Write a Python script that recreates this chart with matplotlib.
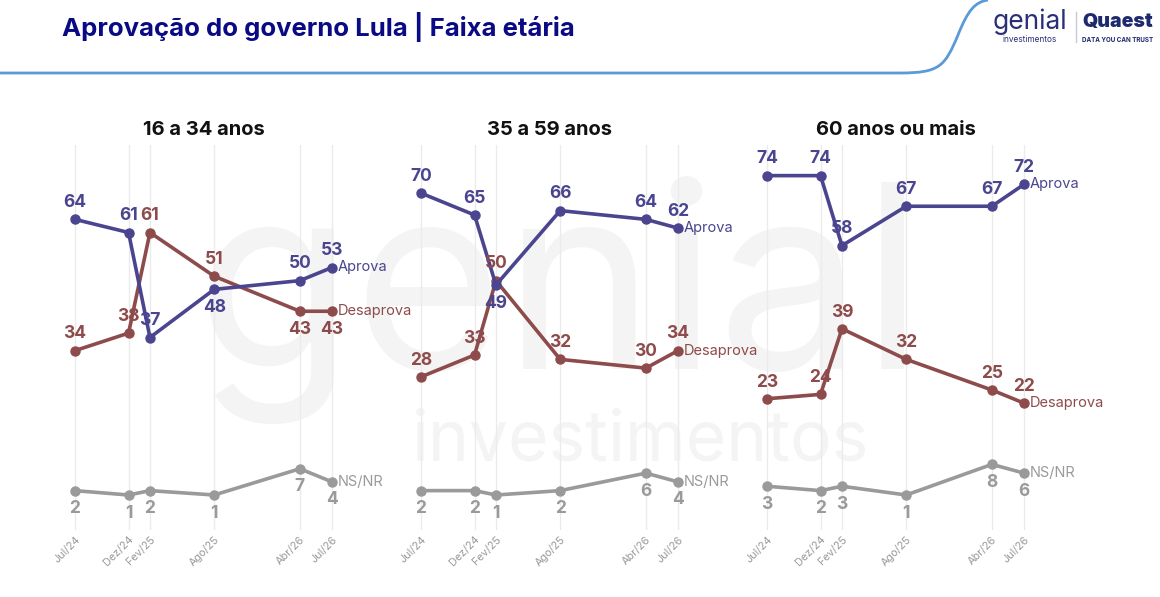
import matplotlib as mpl
import matplotlib.pyplot as plt
from matplotlib.path import Path
from matplotlib.patches import PathPatch

mpl.rcParams['font.family'] = ['Inter', 'DejaVu Sans']

# months since Jul/24
months = [0, 5, 7, 13, 21, 24]
tick_labels = ['Jul/24', 'Dez/24', 'Fev/25', 'Ago/25', 'Abr/26', 'Jul/26']

panel_titles = ['16 a 34 anos', '35 a 59 anos', '60 anos ou mais']

aprova_1 = [64, 61, 37, 48, 50, 53]
desaprova_1 = [34, 38, 61, 51, 43, 43]
ns_1 = [2, 1, 2, 1, 7, 4]

aprova_2 = [70, 65, 49, 66, 64, 62]
desaprova_2 = [28, 33, 50, 32, 30, 34]
ns_2 = [2, 2, 1, 2, 6, 4]

aprova_3 = [74, 74, 58, 67, 67, 72]
desaprova_3 = [23, 24, 39, 32, 25, 22]
ns_3 = [3, 2, 3, 1, 8, 6]

c_ap = '#4b4590'
c_de = '#8e4b4b'
c_ns = '#9a9a9a'

W, H = 1160, 597
fig = plt.figure(figsize=(W / 100, H / 100), dpi=100)
fig.patch.set_facecolor('white')

# header
fig.text(62 / W, 1 - 27 / H, 'Aprovação do governo Lula | Faixa etária', color='#0a0a85',
         fontsize=18.5, fontweight='bold', va='center', ha='left')

verts = [(0, 73), (900, 73), (940, 73), (945, 66), (958, 35),
         (968, 10), (975, 2), (988, 0)]
codes = [Path.MOVETO, Path.LINETO, Path.CURVE4, Path.CURVE4, Path.CURVE4,
         Path.CURVE4, Path.CURVE4, Path.CURVE4]
verts = [(x / W, 1 - y / H) for x, y in verts]
fig.patches.append(PathPatch(Path(verts, codes), transform=fig.transFigure,
                             fill=False, edgecolor='#5a9ad6', lw=2))

# logos
fig.text(1030 / W, 1 - 22 / H, 'genial', color='#2b2f78', fontsize=19,
         ha='center', va='center')
fig.text(1030 / W, 1 - 40 / H, 'investimentos', color='#2b2f78', fontsize=6,
         ha='center', va='center')
fig.add_artist(plt.Line2D([1076 / W, 1076 / W], [1 - 12 / H, 1 - 42 / H],
                          color='#c8c8d8', lw=1, transform=fig.transFigure))
fig.text(1118 / W, 1 - 22 / H, 'Quaest', color='#1e2a6e', fontsize=14,
         fontweight='black', ha='center', va='center')
fig.text(1118 / W, 1 - 40 / H, 'DATA YOU CAN TRUST', color='#1e2a6e', fontsize=4.5,
         fontweight='bold', ha='center', va='center')

# watermark
fig.text(560 / W, 1 - 300 / H, 'genial', color='#f4f4f4', fontsize=185,
         ha='center', va='center', zorder=-5)
fig.text(640 / W, 1 - 442 / H, 'investimentos', color='#f4f4f4', fontsize=50,
         ha='center', va='center', zorder=-5)

series = [
    (aprova_1, desaprova_1, ns_1),
    (aprova_2, desaprova_2, ns_2),
    (aprova_3, desaprova_3, ns_3),
]
# indices of points whose value label sits below the marker
below_ap = [{3}, {2}, set()]
below_de = [{4, 5}, set(), set()]

px_per_month = 257 / 24
xlo, xhi = -3.5, 27.5
ylo, yhi = -7, 81
first_x = [75, 421, 767]
for i, (ap, de, ns) in enumerate(series):
    left = first_x[i] - (0 - xlo) * px_per_month
    width = (xhi - xlo) * px_per_month
    ax = fig.add_axes([left / W, (H - 530) / H, width / W, 385 / H])
    ax.set_facecolor('none')
    ax.set_xlim(xlo, xhi)
    ax.set_ylim(ylo, yhi)
    for s in ax.spines.values():
        s.set_visible(False)
    ax.set_yticks([])
    ax.set_xticks(months)
    ax.set_xticklabels(tick_labels, rotation=45, ha='right', va='top',
                       rotation_mode='anchor', fontsize=7.8, color='#999999')
    ax.tick_params(axis='x', length=0, pad=3)
    ax.grid(axis='x', color='#ebebeb', lw=1)
    ax.set_axisbelow(True)
    ax.set_title(panel_titles[i], fontsize=14.5, fontweight='bold', color='#111111',
                 pad=7)

    for vals, col, below, name in [(ns, c_ns, set(range(6)), 'NS/NR'),
                                   (de, c_de, below_de[i], 'Desaprova'),
                                   (ap, c_ap, below_ap[i], 'Aprova')]:
        ax.plot(months, vals, color=col, lw=2.6, marker='o', ms=6.5, zorder=3)
        for j, (m, v) in enumerate(zip(months, vals)):
            dy = -13 if j in below else 12
            ax.annotate(str(v), (m, v), xytext=(0, dy), textcoords='offset points',
                        ha='center', va='center', fontsize=12.5, fontweight='bold',
                        color=col, zorder=4)
        ax.annotate(name, (months[-1], vals[-1]), xytext=(4, 0),
                    textcoords='offset points', ha='left', va='center',
                    fontsize=10.5, color=col, zorder=4)

fig.savefig('out.png', dpi=100)
